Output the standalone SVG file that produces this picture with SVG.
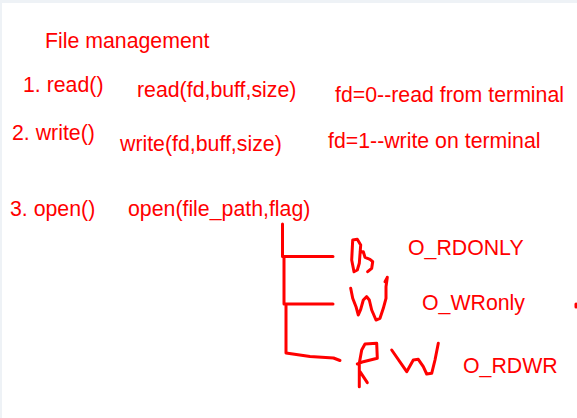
<svg xmlns="http://www.w3.org/2000/svg" width="577" height="418" viewBox="0 0 577 418">
<style>
text{font-family:"Liberation Sans",Arial,sans-serif;font-size:21.3px;fill:#ff0000}
.ink{fill:none;stroke:#ff0000;stroke-width:3;stroke-linecap:round;stroke-linejoin:round}
</style>
<rect x="0" y="0" width="577" height="418" fill="#eef2f6"/>
<rect x="2" y="3" width="575" height="415" fill="#ffffff"/>
<g id="title"><text x="45" y="48">File management</text></g>
<g id="read"><text x="23" y="92">1. read()</text><text x="137" y="97">read(fd,buff,size)</text><text x="335" y="102">fd=0--read from terminal</text></g>
<g id="write"><text x="12" y="140">2. write()</text><text x="120" y="151">write(fd,buff,size)</text><text x="328" y="148">fd=1--write on terminal</text></g>
<g id="open"><text x="10" y="216">3. open()</text><text x="128" y="216">open(file_path,flag)</text></g>
<g id="connectors">
<path class="ink" d="M282.5,224 L282.5,256.5 L333,256.5"/>
<path class="ink" d="M284,257 L284,304 L333,304"/>
<path class="ink" d="M286,305 L286,353 L310,356.5 L333.5,358 L340,360.5"/>
</g>
<g id="flag-rdonly">
<path class="ink" d="M352.7,240 L357.3,239.3 L360.7,245 L359.3,263.3 L357.3,270 L354,271.7 L351.7,260 Z M360,252 L363.3,251.7 L365,257.3 L370,259.3 L372.7,261.7 L371.7,268.3 L367.7,271.7"/>
<text x="408" y="255">O_RDONLY</text>
</g>
<g id="flag-wronly">
<path class="ink" d="M350.7,288.3 L352.7,298.3 L356,306.7 L358.3,315 L360.7,309.3 L363.3,300 L366.7,296.7 L369.3,300 L371.7,310 L376,320 L380,318.3 L383.3,308.3 L386,298.3 L386,286.7 L387.3,277.3 M385,281.7 L387,278"/>
<text x="422" y="310">O_WRonly</text>
</g>
<g id="flag-rdwr">
<path class="ink" d="M359.3,386.7 L359.3,363.3 L361.7,350 L365,344 L376.7,343.3 L377.3,358.3 L363.3,361.7 L357.3,364 M360,371.7 L367.3,382.7"/>
<path class="ink" d="M391.7,350 L406.7,371.7 L413.3,360 L418.3,359.3 L423.3,366.7 L426.7,374 L431.7,373.3 L435,360 L438.3,343.3"/>
<text x="463" y="373">O_RDWR</text>
</g>
<path class="ink" d="M576,304 L576,307"/>
</svg>
